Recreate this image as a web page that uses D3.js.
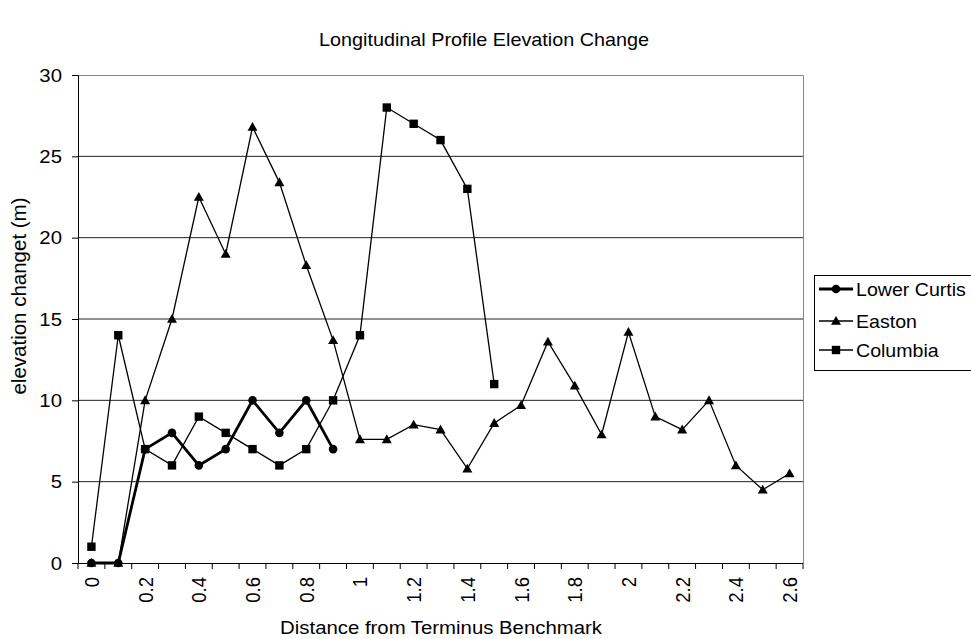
<!DOCTYPE html>
<html><head><meta charset="utf-8">
<script src="https://cdn.jsdelivr.net/npm/d3@7"></script>
<style>body{margin:0;background:#fff}svg{display:block}text{font-family:Arial,"Liberation Sans",sans-serif;fill:#000}</style>
</head><body>
<svg id="c" width="971" height="639"></svg>
<script>
const categories = ["0","0.1","0.2","0.3","0.4","0.5","0.6","0.7","0.8","0.9","1","1.1","1.2","1.3","1.4","1.5","1.6","1.7","1.8","1.9","2","2.1","2.2","2.3","2.4","2.5","2.6"];
const tickLabels = ["0","0.2","0.4","0.6","0.8","1","1.2","1.4","1.6","1.8","2","2.2","2.4","2.6"];
const yTicks = [0,5,10,15,20,25,30];
const lowerCurtis = [0,0,7,8,6,7,10,8,10,7];
const easton = [0,0,10,15,22.5,19,26.8,23.4,18.3,13.7,7.6,7.6,8.5,8.2,5.8,8.6,9.7,13.6,10.9,7.9,14.2,9,8.2,10,6,4.5,5.5];
const columbia = [1,14,7,6,9,8,7,6,7,10,14,28,27,26,23,11];
const seriesNames = ["Lower Curtis","Easton","Columbia"];

const FS = 18.5, SX = 1.1;
const svg = d3.select("#c");
const L=78,R=803,T=75,B=563;
const x = d3.scaleBand().domain(categories).range([L,R]);
const y = d3.scaleLinear().domain([0,30]).range([B,T]);
const cx = c => x(c)+x.bandwidth()/2;

function htext(g,px,py,str,anchor,fs){
  return g.append("text").attr("transform",`translate(${px},${py}) scale(${SX},1)`)
    .attr("text-anchor",anchor).style("font-size",(fs||FS)+"px").text(str);
}

// gridlines
svg.append("g").selectAll("line").data(yTicks.filter(d=>d>0&&d<30)).join("line")
  .attr("x1",L).attr("x2",R).attr("y1",d=>y(d)).attr("y2",d=>y(d))
  .attr("stroke","#222").attr("stroke-width",1);
// plot border (top/right)
svg.append("path").attr("d",`M${L},${T+0.5}H${R+0.5}V${B}`).attr("fill","none").attr("stroke","#888").attr("stroke-width",1);

// y axis
const ya = svg.append("g").attr("transform",`translate(${L},0)`)
  .call(d3.axisLeft(y).tickValues(yTicks).tickSize(6).tickFormat(""));
ya.select(".domain").attr("stroke","#000");
const ytg = svg.append("g");
yTicks.forEach(v=>htext(ytg,62,y(v)+6.5,String(v),"end"));

// x axis
const xa = svg.append("g").attr("transform",`translate(0,${B})`)
  .call(d3.axisBottom(x).tickSize(0).tickFormat(""));
xa.select(".domain").attr("stroke","#000").attr("d",`M${L},0.5H${R}`);
const bounds = d3.range(categories.length+1).map(i=>L+i*x.step());
svg.append("g").selectAll("line").data(bounds).join("line")
  .attr("x1",d=>d).attr("x2",d=>d).attr("y1",B).attr("y2",B+6).attr("stroke","#000");
svg.append("g").selectAll("text").data(tickLabels).join("text")
  .attr("transform",d=>`translate(${cx(d)+7.5},${B+14}) scale(${SX},1) rotate(-90)`)
  .attr("text-anchor","end").style("font-size",FS+"px").text(d=>d);

// lines
const line = d3.line().x((d,i)=>cx(categories[i])).y(d=>y(d));
function series(data, w, marker){
  const g = svg.append("g");
  g.append("path").attr("d",line(data)).attr("fill","none").attr("stroke","#000").attr("stroke-width",w).attr("stroke-linejoin","miter");
  data.forEach((d,i)=>drawMarker(g, cx(categories[i]), y(d), marker));
}
function drawMarker(g,px,py,m){
  if(m==="circle") g.append("circle").attr("cx",px).attr("cy",py).attr("r",4.3).attr("fill","#000");
  else if(m==="square") g.append("rect").attr("x",px-4.2).attr("y",py-4.2).attr("width",8.4).attr("height",8.4).attr("fill","#000");
  else g.append("path").attr("d",`M${px},${py-5}L${px+5},${py+3.8}L${px-5},${py+3.8}Z`).attr("fill","#000");
}
series(easton,1.3,"triangle");
series(columbia,1.3,"square");
series(lowerCurtis,2.8,"circle");

// titles
htext(svg,484,46,"Longitudinal Profile Elevation Change","middle",18);
htext(svg,441,634,"Distance from Terminus Benchmark","middle");
svg.append("text").attr("transform","translate(26,296) scale(0.95,1) rotate(-90)").attr("text-anchor","middle").style("font-size","20.5px").text("elevation changet (m)");

// legend
const lg = svg.append("g");
lg.append("rect").attr("x",814.5).attr("y",275.5).attr("width",160).attr("height",95).attr("fill","#fff").attr("stroke","#000");
const markers=["circle","triangle","square"], widths=[2.8,1.3,1.3], ly=[289,321,350];
seriesNames.forEach((n,i)=>{
  lg.append("line").attr("x1",819).attr("x2",853).attr("y1",ly[i]).attr("y2",ly[i]).attr("stroke","#000").attr("stroke-width",widths[i]);
  drawMarker(lg,836,ly[i],markers[i]);
  htext(lg,856,ly[i]+6.5,n,"start",17.8);
});
</script>
</body></html>
